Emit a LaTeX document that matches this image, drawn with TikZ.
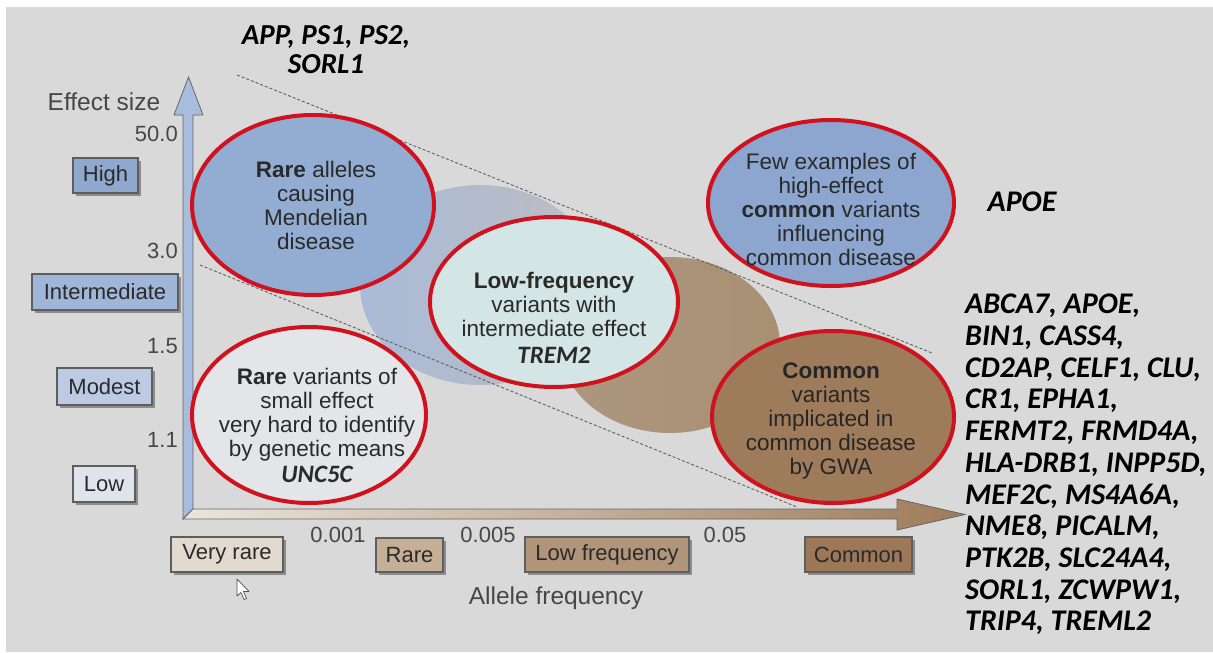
\documentclass[tikz,border=0pt]{standalone}
\usepackage{fontspec}
\setmainfont{Liberation Sans}
\newfontfamily\genefont{Carlito}
\newcommand\genebi{\genefont\bfseries\itshape\fontsize{25}{26}\selectfont}
\usetikzlibrary{shapes.geometric,shadows}

\definecolor{bggray}{HTML}{D9D9D9}
\definecolor{ringred}{HTML}{D0121E}
\definecolor{inktext}{HTML}{2A2A2A}
\definecolor{axisgray}{HTML}{474747}
\definecolor{boxline}{HTML}{5E5E5E}
\definecolor{mendblue}{HTML}{93ACD2}
\definecolor{fewblue}{HTML}{8CA6D0}
\definecolor{lowcyan}{HTML}{D4E5E5}
\definecolor{smallgray}{HTML}{E3E5E9}
\definecolor{gwabrown}{HTML}{9E7B5B}
\definecolor{blobblue}{HTML}{A9BBD8}
\definecolor{blobmid}{HTML}{BCBCC0}
\definecolor{blobtan}{HTML}{A99073}
\definecolor{highbox}{HTML}{8FA8CE}
\definecolor{interbox}{HTML}{A0B6D9}
\definecolor{modestbox}{HTML}{BCCBE3}
\definecolor{lowbox}{HTML}{DEE3EC}
\definecolor{vrarebox}{HTML}{E2DACE}
\definecolor{rarebox}{HTML}{C6AF97}
\definecolor{lfreqbox}{HTML}{B1957A}
\definecolor{commonbox}{HTML}{9C7858}
\definecolor{yaxis}{HTML}{A8BCDB}

\tikzset{
  bubble/.style={ellipse, draw=ringred, line width=4pt, inner sep=0pt},
  bubbletext/.style={align=center, text=inktext, inner sep=0pt, font=\fontsize{22.5}{24}\selectfont},
  scalebox/.style={draw=boxline, line width=1.2pt, inner sep=0pt, text=inktext,
    font=\fontsize{22}{24}\selectfont,
    drop shadow={shadow xshift=2.5pt, shadow yshift=-2.5pt, fill=black, opacity=.35}},
  ticklabel/.style={text=axisgray, inner sep=0pt, font=\fontsize{22}{24}\selectfont},
  axistitle/.style={text=axisgray, inner sep=0pt, font=\fontsize{24.5}{26}\selectfont},
  guide/.style={draw=gray!75!black, line width=0.9pt, dash pattern=on 3pt off 2pt},
  genes/.style={align=left, inner sep=0pt, font=\genefont\bfseries\itshape\fontsize{30}{31.7}\selectfont}
}

\begin{document}
\begin{tikzpicture}[x=1pt,y=-1pt]
  % page and backdrop
  \fill[white] (0,0) rectangle (1213,653);
  \fill[bggray] (6,7) rectangle (1213,652);

  % soft blobs behind the bubbles
  \shade[left color=blobblue, right color=blobmid] (480,285) ellipse [x radius=120, y radius=100];
  \shade[left color=blobtan!85!blobmid, right color=blobtan] (670,345) ellipse [x radius=110, y radius=88];

  % dashed guide lines
  \coordinate (upA) at (237,75);
  \coordinate (upB) at (932,353);
  \coordinate (loA) at (200,265);
  \coordinate (loB) at (797,507);
  \draw[guide] (upA) -- (upB);
  \draw[guide] (loA) -- (loB);

  % axes
  \filldraw[fill=yaxis, draw=gray!80!black, line width=0.8pt]
    (183,519) -- (183,115) -- (174,115) -- (188.5,77) -- (203,115) -- (193,115) -- (193,509) -- cycle;
  \shade[left color=vrarebox!70!white, right color=gwabrown]
    (183,519) -- (193,509) -- (897,509) -- (897,499) -- (965,514.5) -- (897,530) -- (897,519) -- cycle;
  \draw[gray!80!black, line width=0.8pt]
    (183,519) -- (193,509) -- (897,509) -- (897,499) -- (965,514.5) -- (897,530) -- (897,519) -- cycle;

  % bubbles
  \node[bubble, fill=mendblue, minimum width=242pt, minimum height=180pt] (mendel) at (313,205) {};
  \node[bubbletext] (mendelT) at (316,205) {\textbf{Rare} alleles\\causing\\Mendelian\\disease};

  \node[bubble, fill=fewblue, minimum width=246pt, minimum height=166pt] (fewcommon) at (831,203) {};
  \node[bubbletext] (fewcommonT) at (831,209) {Few examples of\\high-effect\\\textbf{common} variants\\influencing\\common disease};

  \node[bubble, fill=lowcyan, minimum width=248pt, minimum height=170pt] (lowfreq) at (554,302) {};
  \node[bubbletext] (lowfreqT) at (554,318) {\textbf{Low-frequency}\\variants with\\intermediate effect\\[3pt]{\genebi TREM2}};

  \node[bubble, fill=smallgray, minimum width=234pt, minimum height=176pt] (smallrare) at (309,415) {};
  \node[bubbletext] (smallrareT) at (317,425) {\textbf{Rare} variants of\\small effect\\very hard to identify\\by genetic means\\[2pt]{\genebi UNC5C}};

  \node[bubble, fill=gwabrown, minimum width=242pt, minimum height=172pt] (gwa) at (833,417) {};
  \node[bubbletext, text=black!85] (gwaT) at (831,421) {\textbf{Common}\\variants\\implicated in\\common disease\\by GWA};

  % effect size scale
  \node[axistitle] (effect) at (104,102) {Effect size};
  \node[ticklabel, anchor=east] (t50) at (178,134) {50.0};
  \node[ticklabel, anchor=east] (t3) at (178,251) {3.0};
  \node[ticklabel, anchor=east] (t15) at (178,346) {1.5};
  \node[ticklabel, anchor=east] (t11) at (178,440) {1.1};
  \node[scalebox, fill=highbox, minimum width=65pt, minimum height=35pt] (high) at (105.5,175.5) {High};
  \node[scalebox, fill=interbox, minimum width=146pt, minimum height=36pt] (inter) at (105,292) {Intermediate};
  \node[scalebox, fill=modestbox, minimum width=95pt, minimum height=37pt] (modest) at (104.5,386.5) {Modest};
  \node[scalebox, fill=lowbox, minimum width=62pt, minimum height=36pt] (low) at (104,484) {Low};

  % allele frequency scale
  \node[ticklabel] (f001) at (338,535) {0.001};
  \node[ticklabel] (f005) at (488,535) {0.005};
  \node[ticklabel] (f05) at (725,535) {0.05};
  \node[scalebox, fill=vrarebox, minimum width=112pt, minimum height=35pt] (vrare) at (227,554.5) {Very rare};
  \node[scalebox, fill=rarebox, minimum width=67pt, minimum height=34pt] (rare) at (409.5,555) {Rare};
  \node[scalebox, fill=lfreqbox, minimum width=164pt, minimum height=35pt] (lfreq) at (607,554.5) {Low frequency};
  \node[scalebox, fill=commonbox, minimum width=107pt, minimum height=35pt] (common) at (858.5,554.5) {Common};
  \node[axistitle] (allele) at (556,598) {Allele frequency};

  % gene lists
  \node[genes, align=center, font=\genefont\bfseries\itshape\fontsize{29}{29}\selectfont] (mendgenes) at (326,50) {APP, PS1, PS2,\\SORL1};
  \node[genes] (apoe) at (1022,202) {APOE};
  \node[genes, anchor=north west] (gwagenes) at (965,294) {ABCA7, APOE,\\BIN1, CASS4,\\CD2AP, CELF1, CLU,\\CR1, EPHA1,\\FERMT2, FRMD4A,\\HLA-DRB1, INPP5D,\\MEF2C, MS4A6A,\\NME8, PICALM,\\PTK2B, SLC24A4,\\SORL1, ZCWPW1,\\TRIP4, TREML2};

  % pointer
  \filldraw[fill=white, draw=gray!60!black, line width=0.7pt, line join=round]
    (237,579) -- (237,596) -- (241,592.5) -- (244,599.5) -- (246.5,598.5) -- (243.5,591.5) -- (249,591.5) -- cycle;
\end{tikzpicture}
\end{document}
